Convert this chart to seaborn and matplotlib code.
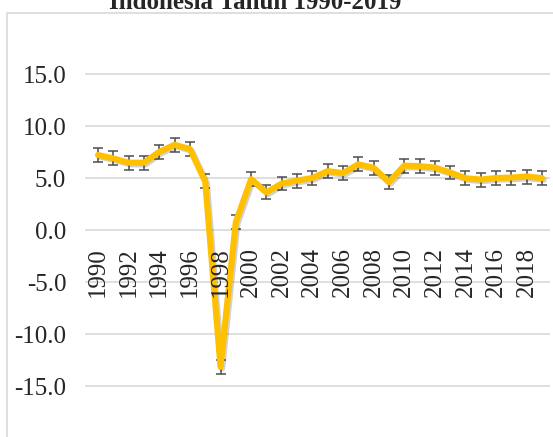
import numpy as np
import pandas as pd
import seaborn as sns
import matplotlib.pyplot as plt
import matplotlib.patheffects as pe
from matplotlib.patches import Rectangle

# Pertumbuhan ekonomi Indonesia (%), 1990-2019
years = list(range(1990, 2020))
growth = [7.24, 6.91, 6.50, 6.50, 7.54, 8.22, 7.82, 4.70, -13.13, 0.79,
          4.92, 3.64, 4.50, 4.78, 5.03, 5.69, 5.50, 6.35, 6.01, 4.63,
          6.22, 6.17, 6.03, 5.56, 5.01, 4.88, 5.03, 5.07, 5.17, 5.02]
std_err = 0.67  # standard error bar, same for every point
y_ticks = [-15, -10, -5, 0, 5, 10, 15]
title = "Indonesia Tahun 1990-2019"

sns.set_style("white")
plt.rcParams['font.family'] = ['Liberation Serif', 'DejaVu Serif']

df = pd.DataFrame({'pos': np.arange(len(years)), 'tahun': years, 'growth': growth})

fig = plt.figure(figsize=(5.53, 4.37), dpi=100)
W, H = 553, 437

# outer chart border (cut off at right and bottom)
fig.patches.append(Rectangle((7 / W, -0.1), 1.1, 1.1 - 13 / H, transform=fig.transFigure,
                             fill=False, edgecolor='#D9D9D9', linewidth=1.2))

ax = fig.add_axes([85 / W, (H - 438.3) / H, (550 - 85) / W, 416 / H])

# gridlines drawn by hand so the year labels can sit on top of the line
for v in y_ticks:
    ax.axhline(v, color='#D9D9D9', linewidth=1.2, zorder=0.5)

ax.errorbar(df['pos'], df['growth'], yerr=std_err, fmt='none', ecolor='#4D4D4D',
            elinewidth=1.1, capsize=3.6, capthick=1.1, zorder=1.8)
sns.lineplot(data=df, x='pos', y='growth', ax=ax, color='#FFC000', linewidth=4.4,
             solid_joinstyle='round', solid_capstyle='round', zorder=2,
             path_effects=[pe.SimpleLineShadow(offset=(1.2, -1.2), alpha=0.18), pe.Normal()])

# category labels sit on the zero line, like Excel
ax.spines['bottom'].set_position(('data', 0))
for s in ax.spines.values():
    s.set_visible(False)
ax.set_axisbelow(False)

ax.set_ylim(-20, 20)
ax.set_xlim(-0.85, 29.52)
ax.set_yticks(y_ticks)
ax.set_yticklabels([f"{v:.1f}" for v in y_ticks], fontsize=18)
ax.grid(False)

ax.set_xticks(list(df['pos'][::2]))
ax.set_xticklabels([str(y) for y in years[::2]], rotation=90, fontsize=18)
ax.tick_params(axis='x', length=0, pad=12)
ax.tick_params(axis='y', length=0, pad=13.5)
ax.set_xlabel('')
ax.set_ylabel('')

fig.text(255 / W, 1 - 9 / H, title, ha='center', va='baseline',
         fontsize=18, fontweight='bold')

fig.savefig('out.png', dpi=100)
